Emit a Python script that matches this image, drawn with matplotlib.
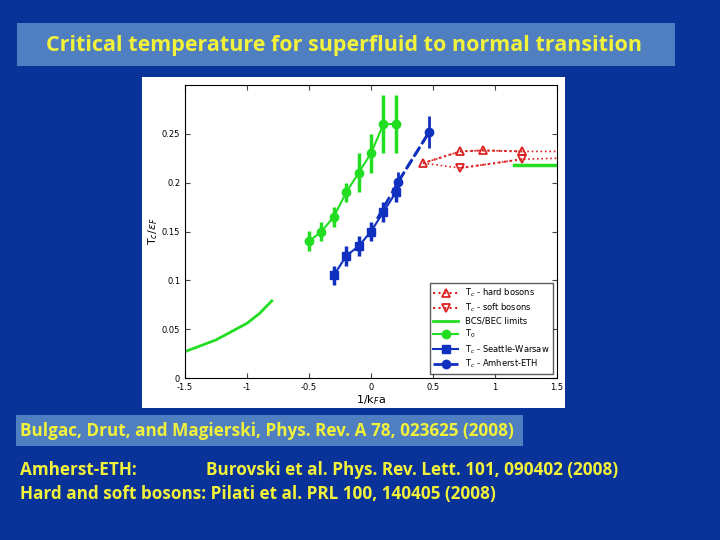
import matplotlib
matplotlib.use("Agg")
import matplotlib.pyplot as plt
from matplotlib.patches import Rectangle

# Data
t0_x = [-0.5, -0.4, -0.3, -0.2, -0.1, 0.0, 0.1, 0.2]
t0_y = [0.14, 0.15, 0.165, 0.19, 0.21, 0.23, 0.26, 0.26]
t0_e = [0.01, 0.01, 0.01, 0.01, 0.02, 0.02, 0.03, 0.03]
sw_x = [-0.3, -0.2, -0.1, 0.0, 0.1, 0.2]
sw_y = [0.105, 0.125, 0.135, 0.15, 0.17, 0.19]
sw_e = [0.01, 0.01, 0.01, 0.01, 0.01, 0.01]
ae_x = [0.22, 0.47]
ae_y = [0.201, 0.252]
ae_e = [0.01, 0.016]
ae_line_x = [0.05, 0.22, 0.47]
ae_line_y = [0.163, 0.201, 0.252]
hb_x = [0.42, 0.72, 0.9, 1.22]
hb_y = [0.22, 0.232, 0.233, 0.232]
hb_line_x = [0.42, 0.72, 0.9, 1.22, 1.5]
hb_line_y = [0.22, 0.232, 0.233, 0.232, 0.232]
sb_x = [0.72, 1.22]
sb_y = [0.215, 0.224]
sb_line_x = [0.42, 0.72, 1.22, 1.5]
sb_line_y = [0.22, 0.215, 0.224, 0.225]
bcs_x = [-1.5, -1.25, -1.0, -0.9, -0.8]
bcs_y = [0.027, 0.039, 0.056, 0.066, 0.079]
bec_x = [1.15, 1.5]
bec_y = [0.218, 0.218]

BG = "#0a3399"
BOX = "#4f7fc0"
YEL = "#f2f23a"
fig = plt.figure(figsize=(7.2, 5.4), dpi=100, facecolor=BG)

# title box
fig.patches.append(Rectangle((17/720, 1-66/540), 658/720, 43/540, transform=fig.transFigure,
                             facecolor=BOX, edgecolor="none", zorder=-5))
fig.text(344/720, 1-45/540, "Critical temperature for superfluid to normal transition",
         ha="center", va="center", color=YEL, fontsize=15.5, fontweight="bold", family="Open Sans")
# white chart panel
fig.patches.append(Rectangle((142/720, 1-408/540), 423/720, 331/540, transform=fig.transFigure,
                             facecolor="white", edgecolor="none", zorder=-5))

ax = fig.add_axes([185/720, 1-378/540, 372/720, 293/540])
ax.set_zorder(5)
g = "#22dd22"
b = "#1030c0"
r = "#dd2222"
ax.errorbar(t0_x, t0_y, yerr=t0_e, color=g, marker="o", ms=6, lw=1.5, elinewidth=2.5, label=r"T$_0$")
ax.errorbar(sw_x, sw_y, yerr=sw_e, color=b, marker="s", ms=6, lw=1.5, elinewidth=2.5, label=r"T$_c$ - Seattle-Warsaw")
ax.plot(ae_line_x, ae_line_y, color=b, ls="--", lw=2)
ax.errorbar(ae_x, ae_y, yerr=ae_e, color=b, marker="o", ms=6, ls="--", lw=2, elinewidth=2, label=r"T$_c$ - Amherst-ETH")
ax.plot(hb_line_x, hb_line_y, color=r, ls=":", lw=1.2)
ax.plot(hb_x, hb_y, color=r, ls=":", marker="^", ms=6, mfc="none", mew=1.3, label=r"T$_c$ - hard bosons")
ax.plot(sb_line_x, sb_line_y, color=r, ls=":", lw=1.2)
ax.plot(sb_x, sb_y, color=r, ls=":", marker="v", ms=6, mfc="none", mew=1.3, label=r"T$_c$ - soft bosons")
ax.plot(bcs_x, bcs_y, color=g, lw=2, label="BCS/BEC limits")
ax.plot(bec_x, bec_y, color=g, lw=2.5)
ax.set_xlim(-1.5, 1.5)
ax.set_ylim(0, 0.3)
ax.set_xticks([-1.5, -1, -0.5, 0, 0.5, 1, 1.5])
ax.set_xticklabels(["-1.5", "-1", "-0.5", "0", "0.5", "1", "1.5"])
ax.set_yticks([0, 0.05, 0.1, 0.15, 0.2, 0.25])
ax.set_yticklabels(["0", "0.05", "0.1", "0.15", "0.2", "0.25"])
ax.tick_params(labelsize=6, direction="in", top=True, right=True, color="#444")
ax.set_xlabel(r"1/k$_F$a", fontsize=8, labelpad=1)
ax.set_ylabel(r"T$_c$/$\epsilon_F$", fontsize=8, labelpad=1)
ax.legend(loc="lower right", fontsize=6, handlelength=3, frameon=True, fancybox=False,
          edgecolor="#333", borderpad=0.4, labelspacing=0.3)

# reference box
fig.patches.append(Rectangle((16/720, 1-446/540), 507/720, 31/540, transform=fig.transFigure,
                             facecolor=BOX, edgecolor="none", zorder=-5))
fs = 12.3
fig.text(20/720, 1-431/540, "Bulgac, Drut, and Magierski, Phys. Rev. A 78, 023625 (2008)",
         ha="left", va="center", color=YEL, fontsize=fs, fontweight="bold", family="Open Sans")
fig.text(20/720, 1-470/540, "Amherst-ETH:", ha="left", va="center", color=YEL,
         fontsize=fs, fontweight="bold", family="Open Sans")
fig.text(206/720, 1-470/540, "Burovski et al. Phys. Rev. Lett. 101, 090402 (2008)", ha="left",
         va="center", color=YEL, fontsize=fs, fontweight="bold", family="Open Sans")
fig.text(20/720, 1-494/540, "Hard and soft bosons: Pilati et al. PRL 100, 140405 (2008)", ha="left",
         va="center", color=YEL, fontsize=fs, fontweight="bold", family="Open Sans")

fig.savefig("out.png", dpi=100, facecolor=BG)
